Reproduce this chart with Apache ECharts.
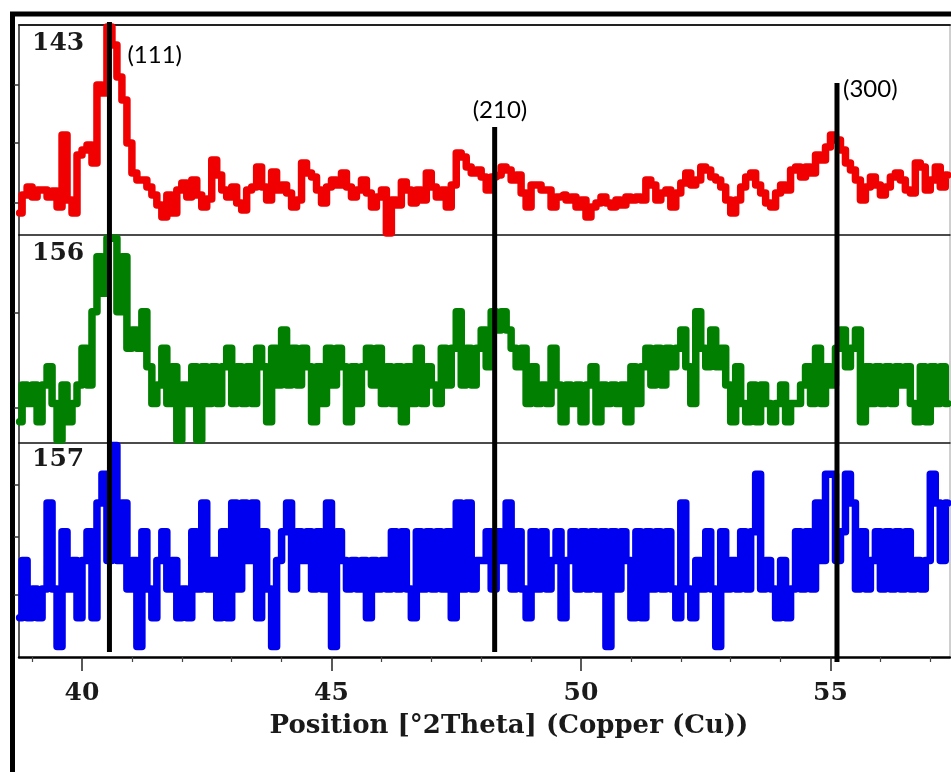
<!DOCTYPE html>
<html>
<head>
<meta charset="utf-8">
<script src="https://cdn.jsdelivr.net/npm/echarts@6/dist/echarts.min.js"></script>
<style>
  html, body { margin: 0; padding: 0; background: #fff; }
  #chart { width: 951px; height: 772px; }
</style>
</head>
<body>
<div id="chart"></div>
<script>
// ---- XRD scans of three samples, 2θ window around the (111), (210), (300) reflections ----
// every scan is binned on the same 0.1° grid starting at scanStart

const scanStart = 38.75;
const scanStep = 0.1;

// sample 143 (intensity, arbitrary units)
const counts143 = [
  22, 40, 48, 38, 45, 45, 38, 44, 28, 100,
  35, 22, 80, 85, 90, 72, 150, 142, 208, 190,
  158, 135, 92, 62, 55, 55, 48, 40, 30, 18,
  40, 22, 45, 52, 38, 55, 40, 28, 36, 75,
  60, 45, 38, 48, 32, 25, 45, 48, 68, 48,
  35, 63, 45, 50, 42, 28, 35, 72, 62, 58,
  45, 32, 48, 55, 50, 62, 48, 38, 45, 55,
  42, 28, 38, 45, 2, 35, 30, 53, 45, 32,
  45, 35, 62, 48, 38, 45, 28, 50, 82, 78,
  68, 62, 65, 58, 45, 58, 60, 68, 65, 55,
  60, 42, 28, 50, 50, 45, 45, 28, 38, 40,
  35, 38, 28, 35, 18, 28, 32, 38, 32, 28,
  35, 30, 38, 35, 38, 35, 55, 50, 35, 42,
  45, 28, 42, 52, 62, 50, 55, 68, 65, 58,
  55, 48, 35, 22, 35, 48, 58, 62, 50, 42,
  32, 28, 42, 50, 45, 65, 68, 58, 68, 62,
  80, 75, 88, 100, 95, 85, 72, 65, 55, 35,
  48, 58, 50, 40, 48, 58, 62, 55, 45, 42,
  72, 68, 45, 55, 68, 48, 60
];

// sample 156 (counts)
const counts156 = [
  1, 3, 2, 3, 1, 3, 4, 2, 0, 3,
  1, 2, 3, 5, 3, 7, 10, 8, 11, 11,
  7, 10, 5, 6, 5, 7, 4, 2, 3, 5,
  2, 4, 0, 3, 2, 4, 0, 4, 2, 4,
  2, 4, 5, 2, 4, 2, 4, 2, 5, 4,
  1, 5, 3, 6, 3, 5, 3, 5, 4, 1,
  4, 2, 5, 3, 5, 4, 1, 4, 2, 4,
  5, 3, 5, 2, 4, 2, 4, 1, 4, 2,
  5, 2, 4, 3, 2, 5, 3, 5, 7, 3,
  5, 3, 5, 6, 4, 7, 6, 7, 6, 5,
  4, 5, 2, 4, 2, 3, 2, 5, 3, 1,
  3, 2, 3, 1, 3, 4, 1, 3, 2, 3,
  2, 3, 1, 4, 2, 4, 5, 3, 5, 3,
  5, 4, 5, 6, 4, 2, 7, 5, 4, 6,
  4, 5, 3, 1, 4, 2, 1, 3, 1, 3,
  2, 1, 2, 3, 1, 2, 2, 3, 4, 2,
  5, 2, 4, 3, 5, 6, 4, 5, 6, 1,
  4, 2, 4, 2, 4, 2, 4, 3, 4, 2,
  1, 4, 1, 4, 2, 4, 2
];

// sample 157 (counts)
const counts157 = [
  2, 4, 2, 3, 2, 3, 6, 3, 1, 5,
  3, 4, 2, 4, 5, 2, 6, 7, 4, 8,
  4, 6, 3, 4, 1, 5, 3, 2, 4, 5,
  3, 4, 2, 3, 2, 5, 3, 6, 3, 4,
  2, 5, 2, 6, 3, 6, 4, 6, 2, 5,
  3, 1, 4, 5, 6, 3, 5, 4, 5, 3,
  5, 3, 6, 1, 5, 4, 3, 4, 3, 4,
  2, 4, 3, 4, 3, 5, 3, 5, 3, 2,
  5, 3, 5, 3, 5, 3, 5, 2, 6, 3,
  6, 3, 4, 4, 5, 3, 5, 4, 6, 3,
  5, 3, 2, 5, 3, 5, 3, 4, 5, 2,
  4, 5, 3, 5, 3, 5, 3, 5, 1, 5,
  3, 5, 4, 2, 5, 2, 5, 3, 5, 3,
  5, 3, 2, 6, 3, 2, 4, 3, 5, 3,
  1, 5, 3, 4, 3, 5, 3, 5, 7, 3,
  4, 3, 2, 4, 2, 3, 5, 3, 5, 3,
  6, 4, 7, 7, 4, 5, 7, 6, 3, 5,
  3, 4, 5, 3, 5, 3, 5, 3, 5, 3,
  4, 3, 4, 7, 6, 4, 6
];

const sampleNames = ['143', '156', '157'];

// reference reflections
const peakPositions = [40.55, 48.27, 55.13];
const peakLabels = ['(111)', '(210)', '(300)'];

// axis ticks and ranges
const majorTicks = [40, 45, 50, 55];
const minorTicks = [39, 41, 42, 43, 44, 46, 47, 48, 49, 51, 52, 53, 54, 56, 57];
const intensityTicks = [[32, 92, 150], [1.75, 6.93], [2.8, 4.82, 6.63]];
const intensityRange = [[0, 210], [-0.16, 11.18], [0.634, 8.09]];
const thetaRange = [38.7375, 57.395];
const axisTitle = 'Position [°2Theta] (Copper (Cu))';

// ---- layout and styling ----
const plotLeft = 19, plotWidth = 931;
const panelBoxes = [
  { top: 25, height: 210 },
  { top: 235, height: 208 },
  { top: 443, height: 214 }
];
const traceColors = ['#f00000', '#007f00', '#0000f0'];
const peakLineStyle = [
  { top: 22, bottom: 652, dx: 18, labelY: 55 },
  { top: 127, bottom: 652, dx: -22, labelY: 110 },
  { top: 83, bottom: 662, dx: 6, labelY: 89 }
];
const panelLabelY = [43, 253, 459];
const serifBold = 'bold 25px "DejaVu Serif"';

const onGrid = (values) => values.map((c, i) => [+(scanStart + i * scanStep).toFixed(2), c]);
const scans = [counts143, counts156, counts157];

const chart = echarts.init(document.getElementById('chart'), null, { renderer: 'canvas' });

const grids = panelBoxes.map(p => ({ left: plotLeft, width: plotWidth, top: p.top, height: p.height, show: false }));
grids.push({ left: plotLeft, width: plotWidth, top: 0, height: 772, show: false });

const xBase = {
  type: 'value', min: thetaRange[0], max: thetaRange[1],
  splitLine: { show: false }, axisLabel: { show: false }, axisTick: { show: false }
};
const xAxes = [
  { ...xBase, gridIndex: 0, position: 'top', axisLine: { show: true, onZero: false, lineStyle: { color: '#222', width: 2 } } },
  { ...xBase, gridIndex: 1, position: 'top', axisLine: { show: true, onZero: false, lineStyle: { color: '#111', width: 1.5 } } },
  { ...xBase, gridIndex: 2, position: 'top', axisLine: { show: true, onZero: false, lineStyle: { color: '#111', width: 1.5 } } },
  { ...xBase, gridIndex: 2, position: 'bottom',
    axisLine: { show: true, onZero: false, lineStyle: { color: '#000', width: 2.5 } },
    axisTick: { show: true, customValues: majorTicks, length: 14, lineStyle: { color: '#222', width: 1.5 } },
    axisLabel: { show: true, customValues: majorTicks, margin: 24, fontFamily: 'DejaVu Serif', fontWeight: 'bold', fontSize: 25, color: '#1a1a1a' } },
  { ...xBase, gridIndex: 2, position: 'bottom',
    axisLine: { show: false, onZero: false },
    axisTick: { show: true, customValues: minorTicks, length: 5, lineStyle: { color: '#444', width: 1.2 } } },
  { ...xBase, gridIndex: 3, show: false }
];

const yAxes = intensityRange.map((r, k) => ({
  type: 'value', gridIndex: k, min: r[0], max: r[1],
  splitLine: { show: false }, axisLabel: { show: false },
  axisLine: { show: true, onZero: false, lineStyle: { color: '#222', width: 1.5 } },
  axisTick: { show: true, customValues: intensityTicks[k], length: 5, lineStyle: { color: '#333', width: 1.5 } }
}));
yAxes.push({ type: 'value', gridIndex: 3, min: 0, max: 772, inverse: true, show: false });

const traceAxes = [[0, 0], [1, 1], [3, 2]];
const series = scans.map((values, k) => ({
  type: 'line', name: sampleNames[k], xAxisIndex: traceAxes[k][0], yAxisIndex: traceAxes[k][1],
  step: 'middle', showSymbol: false, clip: false, silent: true,
  data: onGrid(values),
  lineStyle: { color: traceColors[k], width: 7.5, cap: 'round', join: 'round' }
}));

series.push({
  type: 'custom', name: 'reflections', xAxisIndex: 5, yAxisIndex: 3, silent: true, z: 10, clip: false,
  data: peakPositions.map(p => [p]),
  renderItem: function (params, api) {
    const i = params.dataIndex;
    const st = peakLineStyle[i];
    const x = api.coord([api.value(0), 0])[0];
    return {
      type: 'group',
      children: [
        { type: 'line', shape: { x1: x, y1: st.top, x2: x, y2: st.bottom }, style: { stroke: '#000', lineWidth: 5 } },
        { type: 'text', style: { text: peakLabels[i], x: x + st.dx, y: st.labelY, font: '24px Lato', fill: '#000',
            align: 'left', verticalAlign: 'middle', textAlign: 'left', textVerticalAlign: 'middle' } }
      ]
    };
  }
});

const graphics = [
  { type: 'rect', shape: { x: 12.5, y: 14, width: 1200, height: 1200 }, style: { fill: 'none', stroke: '#000', lineWidth: 5 }, silent: true },
  { type: 'line', shape: { x1: 950, y1: 25, x2: 950, y2: 657 }, style: { stroke: '#a0a0a0', lineWidth: 1 }, silent: true },
  { type: 'text', style: { text: axisTitle, x: 509, y: 726, font: 'bold 26px "DejaVu Serif"', fill: '#1a1a1a',
      align: 'center', verticalAlign: 'middle', textAlign: 'center', textVerticalAlign: 'middle' }, silent: true }
];
sampleNames.forEach((name, k) => {
  graphics.push({ type: 'text', style: { text: name, x: 32, y: panelLabelY[k], font: serifBold, fill: '#1a1a1a',
      align: 'left', verticalAlign: 'middle', textAlign: 'left', textVerticalAlign: 'middle' }, silent: true, z: 20 });
});

chart.setOption({
  backgroundColor: '#ffffff',
  animation: false,
  grid: grids,
  xAxis: xAxes,
  yAxis: yAxes,
  series: series,
  graphic: graphics
});
</script>
</body>
</html>
